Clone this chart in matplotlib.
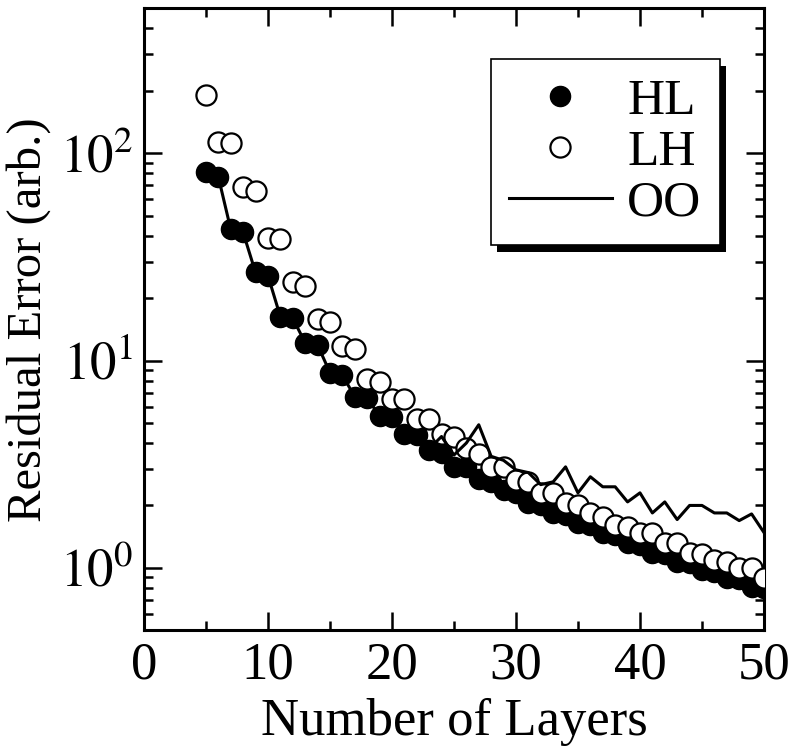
import matplotlib
matplotlib.use("Agg")
import matplotlib.pyplot as plt
from matplotlib.ticker import FixedLocator, LogLocator, FuncFormatter, NullFormatter
from matplotlib.patches import Rectangle
import numpy as np

plt.rcParams['font.family'] = ['Liberation Serif', 'DejaVu Serif']
plt.rcParams['mathtext.fontset'] = 'stix'

# number of layers
layers = list(range(5, 51))

hl = [81, 77, 43, 41.5, 26.6, 25.7, 16.3, 16.0, 12.2, 11.9,
      8.75, 8.5, 6.7, 6.6, 5.4, 5.35, 4.4, 4.35, 3.7, 3.6,
      3.07, 3.05, 2.69, 2.6, 2.38, 2.3, 2.06, 2.0, 1.84, 1.8,
      1.65, 1.61, 1.48, 1.44, 1.32, 1.29, 1.18, 1.16, 1.07, 1.05,
      0.98, 0.96, 0.89, 0.88, 0.81, 0.80]

lh = [190, 113, 112, 68.5, 66, 39, 38.4, 23.8, 22.8, 15.8,
      15.4, 11.7, 11.4, 8.1, 7.9, 6.55, 6.5, 5.25, 5.2, 4.4,
      4.3, 3.8, 3.55, 3.07, 3.05, 2.66, 2.6, 2.3, 2.3, 2.06,
      2.01, 1.84, 1.76, 1.61, 1.58, 1.48, 1.47, 1.32, 1.32, 1.18,
      1.17, 1.09, 1.07, 1.0, 1.0, 0.89]

oo = [81, 77, 43, 41.5, 26.6, 25.7, 16.3, 16.0, 12.2, 11.9,
      8.75, 8.5, 6.7, 6.6, 5.4, 5.35, 4.4, 4.35, 3.75, 4.3,
      3.5, 4.0, 4.9, 3.45, 3.3, 2.97, 2.88, 2.52, 2.6, 3.07,
      2.3, 2.75, 2.46, 2.46, 2.08, 2.3, 1.84, 2.08, 1.71, 2.0,
      2.0, 1.84, 1.84, 1.69, 1.82, 1.48]

fig = plt.figure(figsize=(7.95, 7.53), dpi=100)
ax = fig.add_axes([0.181, 0.163, 0.78, 0.826])

ax.plot(layers, hl, 'o', color='black', markersize=14.5, label='HL', zorder=3)
ax.plot(layers, lh, 'o', markerfacecolor='white', markeredgecolor='black',
        markeredgewidth=1.6, markersize=14.5, label='LH', zorder=4)
ax.plot(layers, oo, '-', color='black', linewidth=2.2, label='OO', zorder=5)

ax.set_yscale('log')
ax.set_xlim(0, 50)
ax.set_ylim(0.5, 500)

ax.xaxis.set_major_locator(FixedLocator([0, 10, 20, 30, 40, 50]))
ax.xaxis.set_minor_locator(FixedLocator([5, 15, 25, 35, 45]))
ax.yaxis.set_major_locator(FixedLocator([1, 10, 100]))
ax.yaxis.set_minor_locator(LogLocator(base=10, subs=np.arange(2, 10)))
ax.yaxis.set_major_formatter(FuncFormatter(lambda v, p: r'$10^{%d}$' % round(np.log10(v))))
ax.yaxis.set_minor_formatter(NullFormatter())

ax.tick_params(which='both', direction='in', top=True, right=True, width=1.8,
               labelsize=38)
ax.tick_params(which='major', length=13, pad=8)
ax.tick_params(which='minor', length=6.5)
for s in ax.spines.values():
    s.set_linewidth(2.2)

ax.set_xlabel('Number of Layers', fontsize=38, labelpad=6)
ax.set_ylabel('Residual Error (arb.)', fontsize=35, labelpad=6)

leg = ax.legend(loc='upper right', bbox_to_anchor=(0.929, 0.918), fontsize=37,
                frameon=True, fancybox=False, edgecolor='black', framealpha=1,
                handlelength=2.0, handletextpad=0.3, labelspacing=0.08,
                borderpad=0.36, borderaxespad=0.0, markerscale=1.0)
leg.get_frame().set_linewidth(1.2)
leg.set_zorder(10)

# black drop shadow behind the legend box
fig.canvas.draw()
bb = leg.get_frame().get_window_extent()
inv = fig.transFigure.inverted()
(x0, y0), (x1, y1) = inv.transform([[bb.x0 + 6, bb.y0 - 7], [bb.x1 + 6, bb.y1 - 7]])
shadow = Rectangle((x0, y0), x1 - x0, y1 - y0, transform=fig.transFigure,
                   facecolor='black', edgecolor='none', zorder=9, clip_on=False)
ax.add_patch(shadow)

fig.savefig('out.png', dpi=100)
